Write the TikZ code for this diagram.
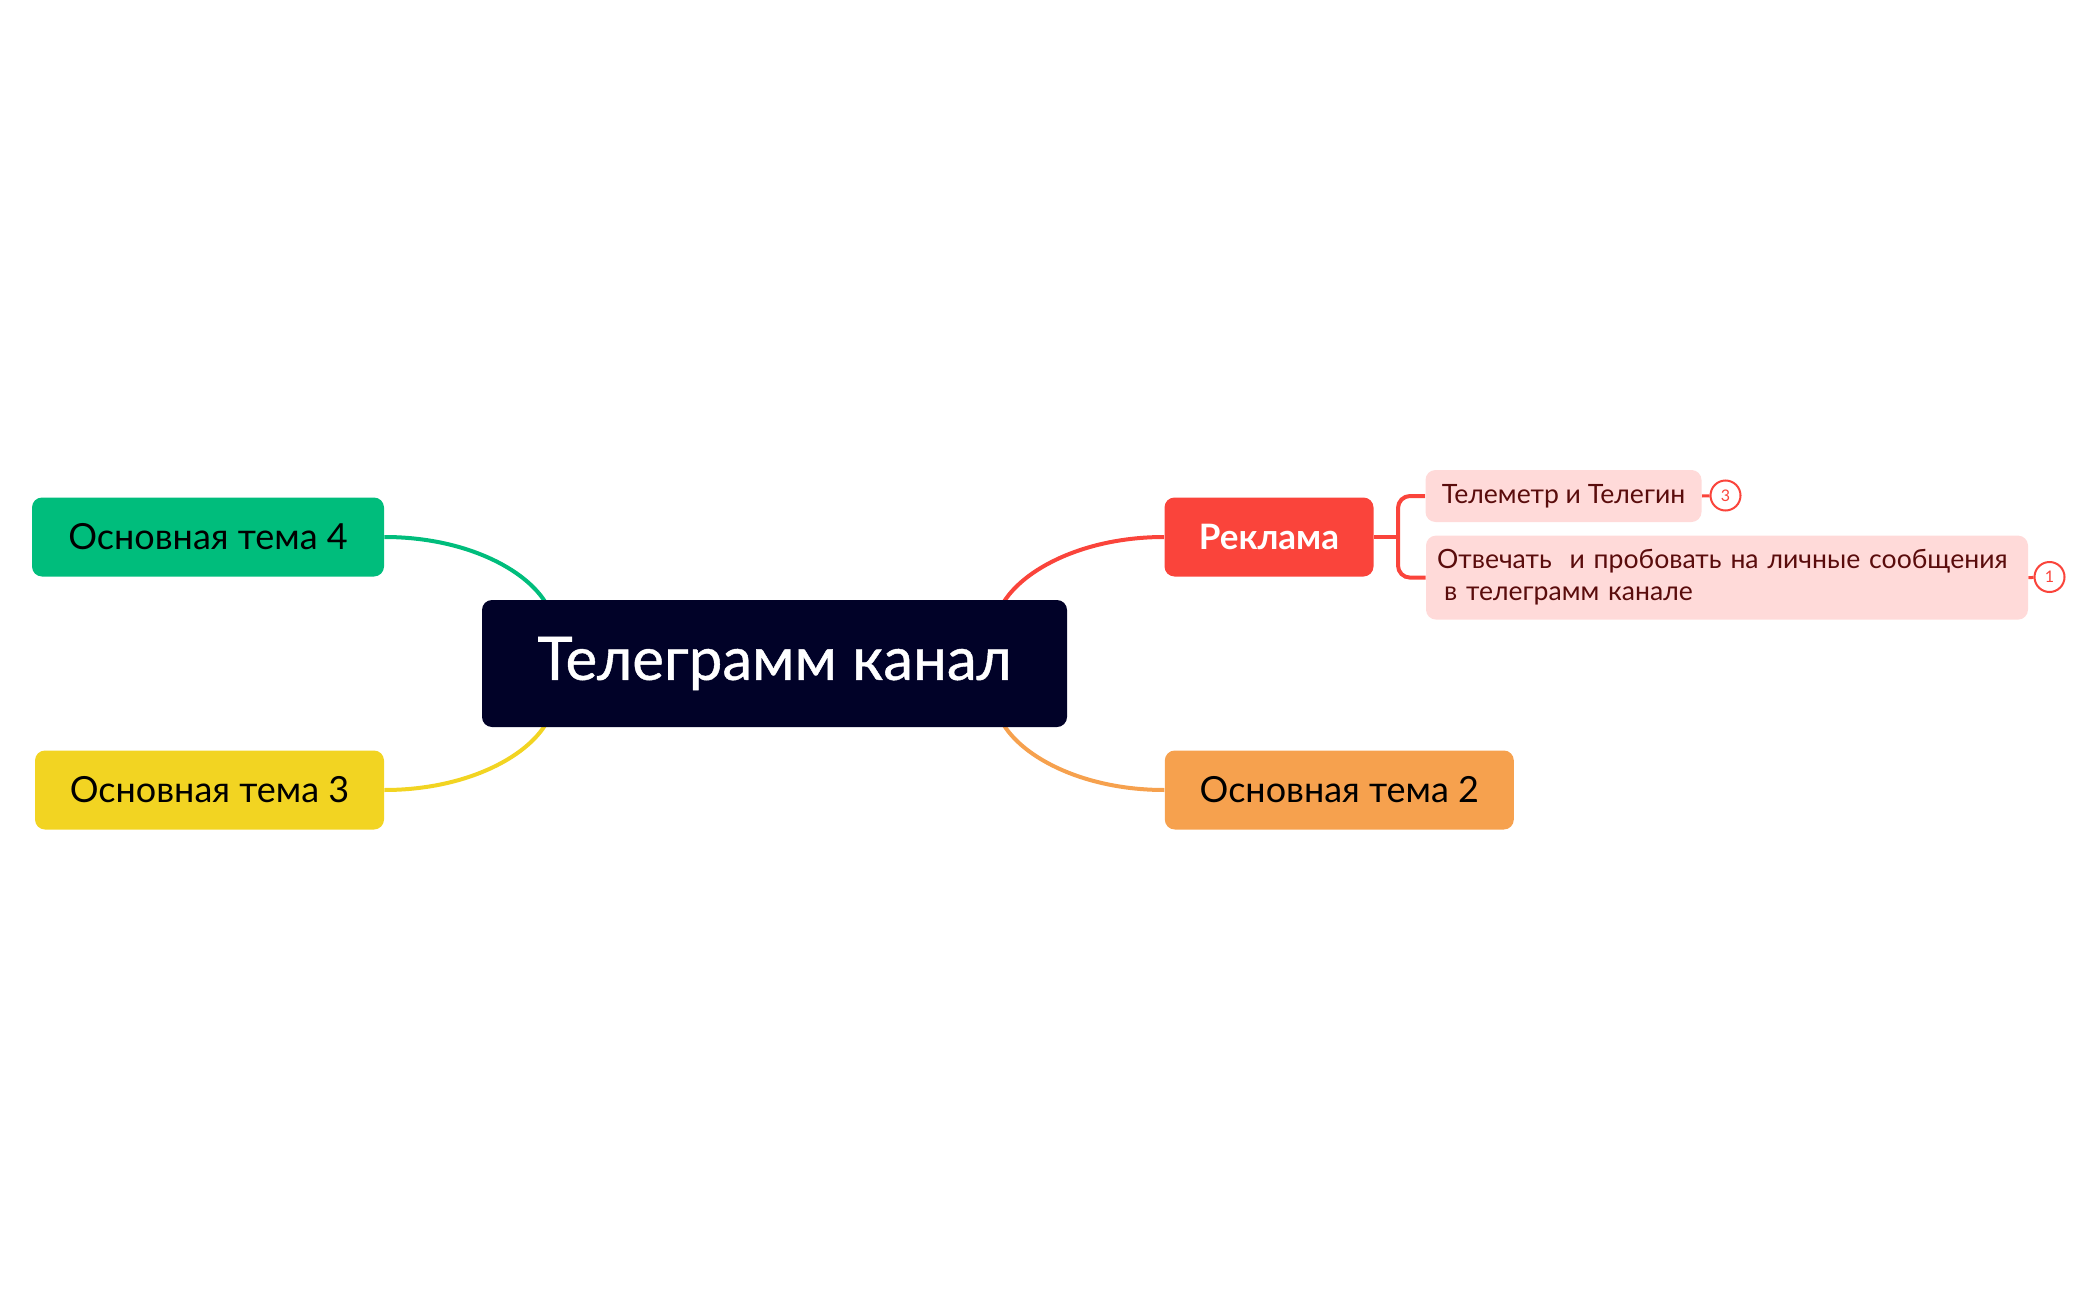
\documentclass[tikz,border=0pt]{standalone}
\usepackage{fontspec}
\setmainfont{Lato}
\newfontfamily\headfont[FakeBold=0.7]{Lato}
\usetikzlibrary{backgrounds}
\definecolor{navy}{HTML}{010228}
\definecolor{adred}{HTML}{FA443B}
\definecolor{orng}{HTML}{F6A14E}
\definecolor{grn}{HTML}{00BD7C}
\definecolor{ylw}{HTML}{F2D422}
\definecolor{pinkbg}{HTML}{FFDAD9}
\definecolor{maroon}{HTML}{5A0C0C}
\tikzset{
 topic/.style={rounded corners=5pt,minimum height=39.5pt,font=\fontsize{18}{21}\selectfont},
 subtopic/.style={fill=pinkbg,rounded corners=5pt,text=maroon,inner xsep=5.5pt,font=\fontsize{13.3}{16}\selectfont},
 badge/.style={circle,draw=adred,fill=white,text=adred,minimum size=15pt,inner sep=0pt,line width=1pt,font=\fontsize{8}{9}\selectfont},
 link/.style={line width=2pt}
}
\begin{document}
\begin{tikzpicture}[x=0.5pt,y=-0.5pt]
\useasboundingbox (0,0) rectangle (2099,1300);
\node[fill=navy,rounded corners=5pt,minimum width=292.5pt,minimum height=63.5pt,text=white,font=\fontsize{30}{35}\headfont](main) at (774.5,663.5){Телеграмм канал};%центр
\node[topic,fill=adred,text=white,minimum width=104.5pt,font=\fontsize{17.5}{20}\selectfont\bfseries](rek) at (1269,537){Реклама};
\node[topic,fill=orng,minimum width=174.5pt](t2) at (1339.3,790){Основная тема 2};
\node[topic,fill=ylw,minimum width=174.5pt](t3) at (209.5,790){Основная тема 3};
\node[topic,fill=grn,minimum width=176pt](t4) at (208,537){Основная тема 4};
\node[subtopic,minimum width=138pt,minimum height=26pt](tel) at (1563.5,496){Телеметр и Телегин};
\node[subtopic,text width=290pt,minimum height=42pt,align=left](otv) at (1727,577.6){Отвечать \ и пробовать на личные сообщения\\\hspace*{3.5pt}в телеграмм канале};
\node[badge](b3) at (1725.5,495.5){3};
\node[badge](b1) at (2049.5,577){1};
\begin{scope}[on background layer]
\draw[link,grn](t4.east)..controls(468,537)and(532,572)..(549,609);
\draw[link,ylw](t3.east)..controls(468,790)and(532,755)..(549,718);
\draw[link,adred](rek.west)..controls(1081,537)and(1017,572)..(1000,609);
\draw[link,orng](t2.west)..controls(1081,790)and(1017,755)..(1000,718);
\draw[link,adred](rek.east)--(1398,537);%скобка
\draw[link,adred,rounded corners=6pt](tel.west)--(1398,496)--(1398,577.6)--(otv.west);
\draw[line width=1.5pt,adred](tel.east)--(b3);
\draw[line width=1.5pt,adred](otv.east)--(b1);
\end{scope}
\end{tikzpicture}
\end{document}
